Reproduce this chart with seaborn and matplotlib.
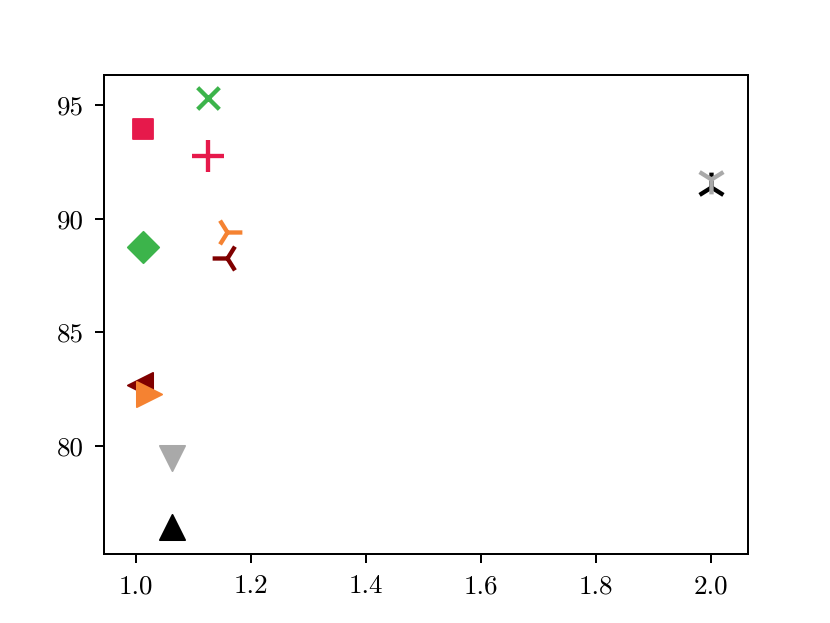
import matplotlib
matplotlib.use("Agg")
import matplotlib.pyplot as plt
import seaborn as sns

# ---- data ----
methods = ["A", "B", "C", "D", "E", "F", "G", "H", "I", "J", "K", "L"]
x_vals = [2.0, 2.0, 1.0627, 1.0627, 1.007, 1.0223, 1.158, 1.158, 1.0122, 1.1254, 1.1254, 1.0122]
y_vals = [91.39, 91.76, 76.43, 79.47, 82.68, 82.29, 88.28, 89.43, 88.75, 95.31, 92.76, 93.94]
x_ticks = [1.0, 1.2, 1.4, 1.6, 1.8, 2.0]
y_ticks = [80, 85, 90, 95]

# ---- styles ----
colors = ["#000000", "#a9a9a9", "#000000", "#a9a9a9", "#800000", "#f58231",
          "#800000", "#f58231", "#3cb44b", "#3cb44b", "#e6194b", "#e6194b"]
markers = ["2", "1", "^", "v", "<", ">", "3", "4", "D", "x", "+", "s"]
msizes = {"2": 16.5, "1": 16.5, "3": 16.5, "4": 16.5, "^": 14, "v": 14, "<": 14, ">": 14,
          "D": 12.3, "s": 11, "x": 12, "+": 18}

sns.set_style("ticks")
plt.rcParams["font.family"] = ["serif"]
plt.rcParams["font.serif"] = ["cmr10", "DejaVu Serif"]
plt.rcParams["mathtext.fontset"] = "cm"
plt.rcParams["axes.formatter.use_mathtext"] = True
plt.rcParams["axes.edgecolor"] = "black"
plt.rcParams["xtick.color"] = "black"
plt.rcParams["ytick.color"] = "black"

fig, ax = plt.subplots(figsize=(6.4, 4.8), dpi=129.8)
fig.subplots_adjust(left=0.125, right=0.9, bottom=0.11, top=0.88)

filled = set("^v<>Ds")
for xi, yi, c, m in zip(x_vals, y_vals, colors, markers):
    s = msizes[m] ** 2
    if m in filled:
        sns.scatterplot(x=[xi], y=[yi], marker=m, color=c, edgecolor=c,
                        s=s, linewidth=1.0, ax=ax, zorder=3)
    else:
        sns.scatterplot(x=[xi], y=[yi], marker=m, color=c,
                        s=s, linewidth=2.4, ax=ax, zorder=3)

ax.set_xlim(0.9438, 2.0645)
ax.set_ylim(75.24, 96.33)
ax.set_xticks(x_ticks)
ax.set_yticks(y_ticks)
ax.set_xticklabels([f"{t:.1f}" for t in x_ticks])
ax.set_yticklabels([f"{t}" for t in y_ticks])
for sp in ax.spines.values():
    sp.set_visible(True)
    sp.set_linewidth(1.1)
ax.tick_params(direction="out", length=5, width=1.1, labelsize=15, pad=6)

fig.savefig("out.png", dpi=129.8)
